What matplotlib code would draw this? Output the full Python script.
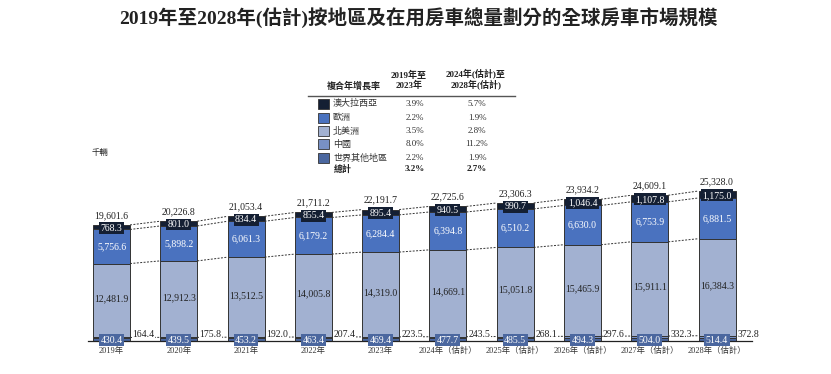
import matplotlib.pyplot as plt
from matplotlib.patches import Rectangle

plt.rcParams['font.family'] = ['Liberation Serif', 'Noto Sans CJK TC', 'DejaVu Sans']

years = ['2019年', '2020年', '2021年', '2022年', '2023年',
         '2024年（估計）', '2025年（估計）', '2026年（估計）', '2027年（估計）', '2028年（估計）']
rest_of_world = [430.4, 439.5, 453.2, 463.4, 469.4, 477.7, 485.5, 494.3, 504.0, 514.4]
china = [164.4, 175.8, 192.0, 207.4, 223.5, 243.5, 268.1, 297.6, 332.3, 372.8]
north_america = [12481.9, 12912.3, 13512.5, 14005.8, 14319.0, 14669.1, 15051.8, 15465.9, 15911.1, 16384.3]
europe = [5756.6, 5898.2, 6061.3, 6179.2, 6284.4, 6394.8, 6510.2, 6630.0, 6753.9, 6881.5]
australasia = [768.3, 801.0, 834.4, 855.4, 895.4, 940.5, 990.7, 1046.4, 1107.8, 1175.0]
totals = [19601.6, 20226.8, 21053.4, 21711.2, 22191.7, 22725.6, 23306.3, 23934.2, 24609.1, 25328.0]

regions = ['澳大拉西亞', '歐洲', '北美洲', '中國', '世界其他地區']
cagr_1 = ['3.9%', '2.2%', '3.5%', '8.0%', '2.2%']
cagr_2 = ['5.7%', '1.9%', '2.8%', '11.2%', '1.9%']
cagr_total = ['3.2%', '2.7%']

c_aus = '#141f33'
c_eur = '#4a72bf'
c_na = '#a2b1d1'
c_cn = '#7890c4'
c_row = '#4b679f'
colors = [c_aus, c_eur, c_na, c_cn, c_row]

fig = plt.figure(figsize=(8.31, 3.74), dpi=100)
ax = fig.add_axes([88 / 831, 33 / 374, 664 / 831, 191 / 374])
ax.set_xlim(-0.35, 9.52)
ax.set_ylim(0, 32250)
ax.axis('off')

x = list(range(len(years)))
w = 0.55
edge = dict(edgecolor='#333333', linewidth=0.7)

b0 = [0] * len(x)
b1 = [a + b for a, b in zip(b0, rest_of_world)]
b2 = [a + b for a, b in zip(b1, china)]
b3 = [a + b for a, b in zip(b2, north_america)]
b4 = [a + b for a, b in zip(b3, europe)]

ax.bar(x, rest_of_world, w, bottom=b0, color=c_row, **edge)
ax.bar(x, china, w, bottom=b1, color=c_cn, **edge)
ax.bar(x, north_america, w, bottom=b2, color=c_na, **edge)
ax.bar(x, europe, w, bottom=b3, color=c_eur, **edge)
ax.bar(x, australasia, w, bottom=b4, color=c_aus, **edge)

# dashed connectors between bars
for lvl in [totals, b4, b3, b2]:
    for i in range(len(x) - 1):
        ax.plot([x[i] + w / 2, x[i + 1] - w / 2], [lvl[i], lvl[i + 1]],
                color='#333333', lw=0.7, ls=(0, (2, 1.5)), zorder=1)

# baseline
ax.plot([-0.35, 9.52], [0, 0], color='#222222', lw=0.9, clip_on=False, zorder=4)

fs = 7
for i in x:
    ax.text(x[i], totals[i] + 850, f'{totals[i]:,.1f}', ha='center', va='bottom',
            fontsize=fs, color='#222222')
    ax.text(x[i], b4[i] + australasia[i] / 2 - 150, f'{australasia[i]:,.1f}', ha='center',
            va='center', fontsize=fs, color='white', zorder=5,
            bbox=dict(boxstyle='square,pad=0.15', fc=c_aus, ec='none'))
    ax.text(x[i], b3[i] + europe[i] / 2, f'{europe[i]:,.1f}', ha='center',
            va='center', fontsize=fs, color='white')
    ax.text(x[i], b2[i] + north_america[i] / 2 + 300, f'{north_america[i]:,.1f}',
            ha='center', va='center', fontsize=fs, color='#222222')
    ax.text(x[i], 150, f'{rest_of_world[i]:,.1f}', ha='center', va='center',
            fontsize=fs, color='white', zorder=5,
            bbox=dict(boxstyle='square,pad=0.15', fc=c_row, ec='none'))
    ax.text(x[i] + w / 2 + 0.03, 1100, f'{china[i]:,.1f}', ha='left', va='center',
            fontsize=fs, color='#222222', zorder=5,
            bbox=dict(boxstyle='square,pad=0.05', fc='white', ec='none'))
    ax.text(x[i], -950, years[i], ha='center', va='top', fontsize=6,
            color='#333333', clip_on=False)

# title and unit
fig.text(418 / 831, 1 - 18 / 374, '2019年至2028年(估計)按地區及在用房車總量劃分的全球房車市場規模',
         ha='center', va='center', fontsize=14, fontweight='bold', color='#222222')
fig.text(92 / 831, 1 - 153 / 374, '千輛', ha='left', va='center', fontsize=6, color='#222222')


# legend table
def fy(py):
    return 1 - py / 374


fig.text(354 / 831, fy(86), '複合年增長率', ha='center', va='center', fontsize=6.5,
         fontweight='bold', color='#222222')
fig.text(409 / 831, fy(80), '2019年至\n2023年', ha='center', va='center', fontsize=6.5,
         fontweight='bold', color='#222222', linespacing=1.1)
fig.text(476 / 831, fy(80), '2024年(估計)至\n2028年(估計)', ha='center', va='center',
         fontsize=6.5, fontweight='bold', color='#222222', linespacing=1.1)
fig.add_artist(plt.Line2D([308 / 831, 515 / 831], [fy(95.5), fy(95.5)], color='#555555', lw=1.0))

row_y = [103.5, 117.5, 131, 144, 158]
for name, col, v1, v2, py in zip(regions, colors, cagr_1, cagr_2, row_y):
    fig.add_artist(Rectangle((318 / 831, fy(py + 5)), 11 / 831, 10 / 374,
                             facecolor=col, edgecolor='#333333', lw=0.6))
    fig.text(333 / 831, fy(py), name, ha='left', va='center', fontsize=6.5, color='#333333')
    fig.text(415 / 831, fy(py), v1, ha='center', va='center', fontsize=6.5, color='#333333')
    fig.text(477 / 831, fy(py), v2, ha='center', va='center', fontsize=6.5, color='#333333')
fig.text(343 / 831, fy(169.5), '總計', ha='center', va='center', fontsize=6.5,
         fontweight='bold', color='#222222')
fig.text(415 / 831, fy(169.5), cagr_total[0], ha='center', va='center', fontsize=6.5,
         fontweight='bold', color='#222222')
fig.text(477 / 831, fy(169.5), cagr_total[1], ha='center', va='center', fontsize=6.5,
         fontweight='bold', color='#222222')

fig.savefig('out.png', dpi=100)
